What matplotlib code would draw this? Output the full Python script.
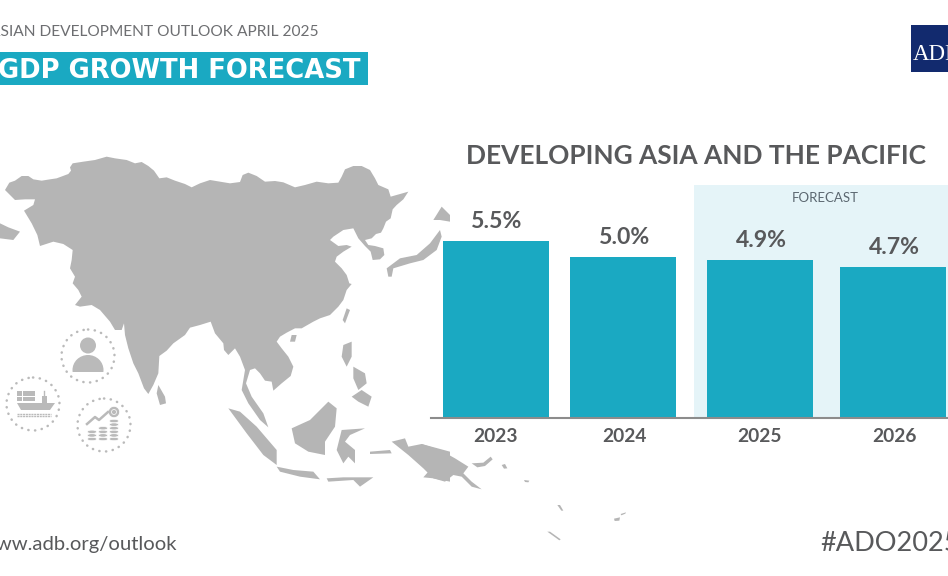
"""ADB outlook card: GDP growth forecast for developing Asia and the Pacific."""
import matplotlib
matplotlib.use("Agg")
import matplotlib.pyplot as plt
from matplotlib.patches import Circle, Ellipse, Polygon, Rectangle

W, H = 948, 576
plt.rcParams["font.family"] = ["Lato", "DejaVu Sans"]

YEARS = ["2023", "2024", "2025", "2026"]
GROWTH = [5.5, 5.0, 4.9, 4.7]
LABELS = ["5.5%", "5.0%", "4.9%", "4.7%"]
BAR_X = [496, 622.75, 760, 893]
LABEL_X = [497, 624.5, 761, 894]
YEAR_X = [495, 624, 760, 894]

TEAL = "#1aa9c2"
TEXT = "#58595b"
MAP = "#b5b5b5"
ICON = "#bababa"

# map outlines, traced in units of a 3x crop whose corner is at (0, 140)
MAINLAND = [(15,150),(28,128),(45,122),(65,108),(85,108),(100,118),(125,122),(150,118),(170,115),(205,102),
    (213,92),(210,82),(218,70),(250,65),(285,60),(320,50),(345,55),(380,60),(405,70),(425,66),(445,78),(462,92),
    (478,115),(500,112),(525,122),(555,132),(575,142),(600,130),(630,120),(660,125),(690,130),(720,126),(728,105),
    (745,98),(770,108),(795,125),(825,123),(850,127),(885,142),(915,135),(950,125),(985,130),(1015,128),(1025,110),
    (1035,88),(1060,78),(1085,78),(1110,90),(1125,115),(1135,135),(1165,148),(1172,170),(1225,155),(1210,178),
    (1190,195),(1178,208),(1172,235),(1158,245),(1150,265),(1143,278),(1128,282),(1115,295),(1095,300),(1105,315),
    (1125,318),(1150,325),(1153,345),(1140,358),(1118,360),(1112,335),(1095,318),(1075,295),(1060,265),(1030,270),
    (1000,290),(990,300),(1015,318),(1040,315),(1055,320),(1030,335),(1010,350),(1005,365),(1025,385),(1040,405),
    (1048,430),(1055,432),(1040,450),(1030,480),(1015,500),(990,525),(960,535),(940,545),(905,565),(885,565),
    (860,578),(840,590),(830,605),(845,625),(865,650),(880,680),(872,708),(845,730),(820,752),(815,725),(795,722),
    (780,700),(765,685),(750,690),(738,730),(755,770),(790,820),(805,862),(780,840),(745,790),(725,750),(735,690),
    (720,650),(705,625),(685,645),(672,630),(670,610),(645,580),(632,545),(600,555),(570,563),(555,585),(520,610),
    (500,632),(478,648),(475,700),(460,735),(445,762),(432,745),(415,700),(400,670),(385,625),(375,585),(372,550),
    (365,570),(345,570),(330,545),(300,510),(275,495),(240,500),(225,495),(245,470),(235,450),(218,430),(225,410),
    (210,385),(215,360),(218,330),(190,312),(160,305),(120,318),(112,285),(95,250),(72,212),(100,195),(105,178),
    (75,178),(45,180)]
HONSHU = [(1160,385),(1200,355),(1250,345),(1290,310),(1320,270),(1325,290),(1310,330),(1270,360),
    (1230,370),(1180,385),(1175,410),(1165,410)]
HOKKAIDO = [(1300,240),(1325,200),(1350,225),(1350,245),(1320,240)]
SRI_LANKA = [(475,735),(495,770),(498,790),(480,795),(470,760)]
TAIWAN = [(1040,505),(1050,510),(1035,550),(1028,540)]
HAINAN = [(875,585),(890,585),(885,605),(870,605)]
SUMATRA = [(685,805),(720,815),(770,860),(830,930),(830,975),(790,945),(740,880)]
JAVA = [(830,980),(880,990),(940,995),(960,1018),(900,1010),(840,995)]
BORNEO = [(875,865),(930,840),(985,785),(1010,805),(1005,860),(975,905),(975,945),(925,935),(885,910)]
SULAWESI = [(1025,870),(1095,865),(1050,885),(1035,905),(1065,930),(1065,970),(1045,950),(1030,970),(1010,930)]
LUZON = [(1030,615),(1055,605),(1055,650),(1040,680),(1025,650)]
MINDANAO = [(1055,770),(1085,750),(1115,770),(1105,800),(1075,785)]
VISAYAS = [(1060,680),(1095,700),(1100,730),(1075,750),(1060,715)]
BIRDS_HEAD = [(1175,905),(1215,895),(1225,920),(1265,912),(1350,935),(1350,1025),(1300,1015),(1270,985),(1225,945),(1200,925)]
TURKEY = [(0,250),(25,262),(60,275),(40,300),(0,295)]
FLORES = [(980,1015),(1030,1012),(1120,1012),(1080,1040),(1060,1020),(985,1025)]
MALUKU = [(1110,935),(1170,930),(1175,940),(1110,942)]
CROPPED = [MAINLAND, HONSHU, HOKKAIDO, SRI_LANKA, TAIWAN, HAINAN, SUMATRA, JAVA, BORNEO, SULAWESI,
    LUZON, MINDANAO, VISAYAS, BIRDS_HEAD, TURKEY, FLORES, MALUKU]

# same idea, crop corner at (400, 420)
NEW_GUINEA = [(35,95),(65,72),(120,90),(165,115),(205,140),(190,160),(215,185),(245,208),(215,200),(185,170),
    (160,165),(135,185),(100,175),(70,172),(85,155),(75,130),(40,105)]
NEW_BRITAIN = [(215,130),(250,128),(272,110),(278,118),(255,138),(232,142)]
SOLOMON = [(305,135),(315,132),(322,145),(312,146)]
SOLOMON2 = [(372,180),(388,182),(385,187),(375,186)]
VANUATU = [(472,255),(480,255),(490,272),(484,272)]
FIJI = [(442,335),(450,335),(482,358),(478,361)]
SAMOA = [(642,296),(660,292),(658,302),(644,303)]
SAMOA2 = [(662,282),(678,277),(676,281),(664,286)]
PACIFIC = [NEW_GUINEA, NEW_BRITAIN, SOLOMON, SOLOMON2, VANUATU, FIJI, SAMOA, SAMOA2]


def to_px(points, x0, y0):
    return [(x0 + x / 3, y0 + y / 3) for x, y in points]


def draw_person(ax, cx, cy):
    ax.add_patch(Circle((cx, cy - 10.5), 8, color=ICON, lw=0))
    body = Ellipse((cx, cy + 14), 31, 30, color=ICON, lw=0)
    ax.add_patch(body)
    body.set_clip_path(Rectangle((cx - 16, cy - 2), 32, 18, transform=ax.transData))


def draw_ship(ax, cx, cy):
    for i in range(3):
        for j in range(2):
            ax.add_patch(Rectangle((cx - 16 + i * 6.2, cy - 13 + j * 5.6), 5.4, 4.8, color=ICON, lw=0))
    ax.add_patch(Polygon([(cx - 16, cy - 1), (cx + 22, cy - 1), (cx + 17, cy + 6), (cx - 12, cy + 6)], color=ICON, lw=0))
    ax.add_patch(Rectangle((cx + 9, cy - 8), 5, 7, color=ICON, lw=0))
    ax.plot([cx + 11, cx + 11], [cy - 13, cy - 8], color=ICON, lw=1)
    for dy in (9.5, 12):
        ax.plot([cx - 16, cx + 18], [cy + dy, cy + dy], color=ICON, lw=1, ls=(0, (1.5, 0.5)))


def draw_coins(ax, cx, cy):
    for dx, n in ((-12, 3), (-1, 4), (10, 6)):
        for k in range(n):
            ax.add_patch(Ellipse((cx + dx, cy + 14 - k * 3.6), 9.5, 3.4, facecolor=ICON, edgecolor="white", lw=0.5))
    ax.plot([cx - 17, cx - 9, cx - 5, cx + 4], [cy - 1, cy - 8, cy - 5, cy - 13], color=ICON, lw=1.8)
    ax.add_patch(Circle((cx + 10, cy - 13), 5.7, facecolor=ICON, edgecolor="white", lw=0.6))
    ax.add_patch(Circle((cx + 10, cy - 13), 2.5, facecolor="none", edgecolor="white", lw=0.5))


fig = plt.figure(figsize=(W / 100, H / 100), dpi=100, facecolor="white")

# backdrop axes in image pixels, y pointing down
bg = fig.add_axes([0, 0, 1, 1])
bg.set_xlim(0, W)
bg.set_ylim(H, 0)
bg.axis("off")

for shape in CROPPED:
    bg.add_patch(Polygon(to_px(shape, 0, 140), color=MAP, lw=0))
for shape in PACIFIC:
    bg.add_patch(Polygon(to_px(shape, 400, 420), color=MAP, lw=0))

for (cx, cy), icon in zip([(88, 356), (33, 404), (104, 425)], [draw_person, draw_ship, draw_coins]):
    bg.add_patch(Circle((cx, cy), 26.5, fill=False, edgecolor=ICON, lw=1.8, ls=(0, (0.1, 2.6)), capstyle="round"))
    icon(bg, cx, cy)

bg.add_patch(Rectangle((694, 185), 254, 232, color="#e5f4f8", lw=0))
bg.add_patch(Rectangle((0, 52), 368, 33, color=TEAL, lw=0))
bg.add_patch(Rectangle((911, 25), 37, 47, color="#122a6e", lw=0))

bg.text(319, 36, "ASIAN DEVELOPMENT OUTLOOK APRIL 2025", ha="right", va="baseline", fontsize=11.2, color="#6d6e71")
bg.text(361, 78, "GDP GROWTH FORECAST", ha="right", va="baseline", fontsize=18.6, fontweight="bold", color="white",
        family="DejaVu Sans")
bg.text(913, 60, "ADB", ha="left", va="baseline", fontsize=16.5, color="white", family="Liberation Serif")
bg.text(696, 164.3, "DEVELOPING ASIA AND THE PACIFIC", ha="center", va="baseline", fontsize=18.9, fontweight="bold", color=TEXT)
bg.text(825, 202.3, "FORECAST", ha="center", va="baseline", fontsize=9.5, color="#5b6770")
bg.text(177, 550, "www.adb.org/outlook", ha="right", va="baseline", fontsize=14.6, color=TEXT)
bg.text(820, 551, "#ADO2025", ha="left", va="baseline", fontsize=19.5, color=TEXT)

# bars share the pixel x scale of the backdrop, 32.1 px per percentage point
ax = fig.add_axes([431 / W, (H - 417.5) / H, (W - 431) / W, 287.5 / H])
ax.patch.set_alpha(0)
ax.set_xlim(431, W)
ax.set_ylim(0, 287.5 / 32.1)
ax.bar(BAR_X, GROWTH, width=106, color=TEAL, linewidth=0)
for s in ("top", "left", "right"):
    ax.spines[s].set_visible(False)
ax.spines["bottom"].set_color("#8c8c8c")
ax.spines["bottom"].set_linewidth(1.5)
ax.set_yticks([])
ax.set_xticks(YEAR_X, YEARS, fontsize=13.8, fontweight="bold", color=TEXT)
ax.tick_params(axis="x", length=0, pad=7.5)
for x, v, lab in zip(LABEL_X, GROWTH, LABELS):
    ax.annotate(lab, (x, v), xytext=(0, 9.4), textcoords="offset points", ha="center", va="baseline",
                fontsize=16.6, fontweight="bold", color=TEXT)

fig.savefig("out.png", dpi=100)
